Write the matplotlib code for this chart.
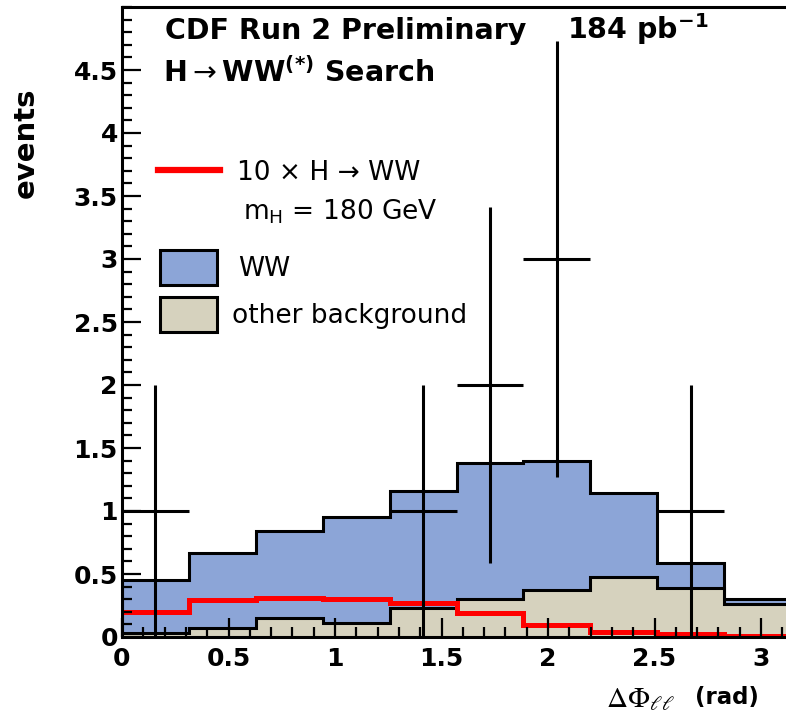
import numpy as np
import matplotlib
matplotlib.use("Agg")
import matplotlib.pyplot as plt
from matplotlib.patches import Rectangle
from matplotlib.ticker import MultipleLocator, FixedLocator, FuncFormatter

# --- data ---
n_bins = 10
other_bkg = [0.03, 0.07, 0.15, 0.11, 0.23, 0.30, 0.37, 0.48, 0.39, 0.26]
ww_plus_other = [0.45, 0.67, 0.84, 0.95, 1.16, 1.38, 1.40, 1.14, 0.59, 0.30]
signal_10x = [0.20, 0.29, 0.31, 0.30, 0.27, 0.19, 0.095, 0.04, 0.02, 0.01]
data_counts = [1, 0, 0, 0, 1, 2, 3, 0, 1, 0]
data_err = [1.0, 0, 0, 0, 1.0, 1.41, 1.73, 0, 1.0, 0]
y_ticks = [0, 0.5, 1, 1.5, 2, 2.5, 3, 3.5, 4, 4.5]

BLUE = "#8ca5d7"
BEIGE = "#d6d2be"
RED = "#ff0000"

W, H = 786, 727


def fx(px):
    return px / W


def fy(py):
    return 1 - py / H


fig = plt.figure(figsize=(W / 100, H / 100), dpi=100)
ax = fig.add_axes([fx(122), fy(637), 1 - fx(122), fy(7) - fy(637)])

edges = np.linspace(0, np.pi, n_bins + 1)
centers = 0.5 * (edges[:-1] + edges[1:])
half_w = 0.5 * (edges[1] - edges[0])

# stacked backgrounds
ax.stairs(ww_plus_other, edges, fill=True, color=BLUE, zorder=1)
ax.stairs(ww_plus_other, edges, color="black", lw=2.2, zorder=2)
ax.stairs(other_bkg, edges, fill=True, color=BEIGE, zorder=3)
ax.stairs(other_bkg, edges, color="black", lw=2.2, zorder=4)
ax.stairs(signal_10x, edges, color=RED, lw=3.6, baseline=None, zorder=5)

# data points (only non-empty bins)
for c, n, e in zip(centers, data_counts, data_err):
    if n == 0:
        continue
    ax.errorbar(c, n, yerr=e, xerr=half_w, fmt="none", ecolor="black",
                elinewidth=2.2, capsize=0, zorder=6)

ax.set_xlim(0, (W - 122) / 213)
ax.set_ylim(0, 5.0)

ax.xaxis.set_major_locator(MultipleLocator(0.5))
ax.xaxis.set_minor_locator(MultipleLocator(0.1))
ax.yaxis.set_major_locator(FixedLocator(y_ticks))
ax.yaxis.set_minor_locator(MultipleLocator(0.1))
ax.xaxis.set_major_formatter(FuncFormatter(lambda v, p: f"{v:g}"))
ax.yaxis.set_major_formatter(FuncFormatter(lambda v, p: f"{v:g}"))

ax.tick_params(which="both", direction="in", top=False, right=False, width=1.6)
ax.tick_params(which="major", length=14)
ax.tick_params(which="minor", length=7)
ax.tick_params(axis="y", which="major", pad=3)
ax.tick_params(axis="x", which="major", pad=7)
for lab in ax.get_xticklabels() + ax.get_yticklabels():
    lab.set_fontsize(18)
    lab.set_fontweight("bold")

# ticks and frame on top of the filled histograms, like ROOT
ax.xaxis.set_zorder(10)
ax.yaxis.set_zorder(10)
for side in ["left", "bottom", "top"]:
    ax.spines[side].set_linewidth(2.2)
    ax.spines[side].set_zorder(10)
ax.spines["right"].set_visible(False)

# axis titles
fig.text(fx(26), fy(143), "events", rotation=90, fontsize=21, fontweight="bold",
         ha="center", va="center")
fig.text(fx(606), fy(707), r"$\Delta\Phi_{\ell\ell}$", fontsize=21,
         math_fontfamily="stix", ha="left", va="baseline")
fig.text(fx(695), fy(704), "(rad)", fontsize=16.5, fontweight="bold",
         ha="left", va="baseline")

# header text
fig.text(fx(165), fy(39), "CDF Run 2 Preliminary", fontsize=20.5, fontweight="bold",
         ha="left", va="baseline")
fig.text(fx(567), fy(39), r"184 pb$^{\mathbf{-1}}$", fontsize=20.5, fontweight="bold",
         ha="left", va="baseline")
fig.text(fx(163), fy(82), r"H$\rightarrow$WW$^{\mathbf{(*)}}$ Search", fontsize=20.5,
         fontweight="bold", ha="left", va="baseline")

# legend drawn by hand, ROOT style
fig.add_artist(plt.Line2D([fx(158), fx(220)], [fy(170), fy(170)], color=RED, lw=4.5))
fig.text(fx(237), fy(180), "10 × H → WW", fontsize=19, ha="left", va="baseline")
fig.text(fx(243), fy(219), r"m$_{\mathrm{H}}$ = 180 GeV", fontsize=19,
         ha="left", va="baseline")
for y0, col, label, tx in [(250, BLUE, "WW", 238), (297, BEIGE, "other background", 232)]:
    fig.add_artist(Rectangle((fx(160), fy(y0 + 35)), fx(217) - fx(160), fy(y0) - fy(y0 + 35),
                             facecolor=col, edgecolor="black", lw=2.2,
                             transform=fig.transFigure))
    fig.text(fx(tx), fy(y0 + 26), label, fontsize=19, ha="left", va="baseline")

fig.savefig("out.png", dpi=100)
